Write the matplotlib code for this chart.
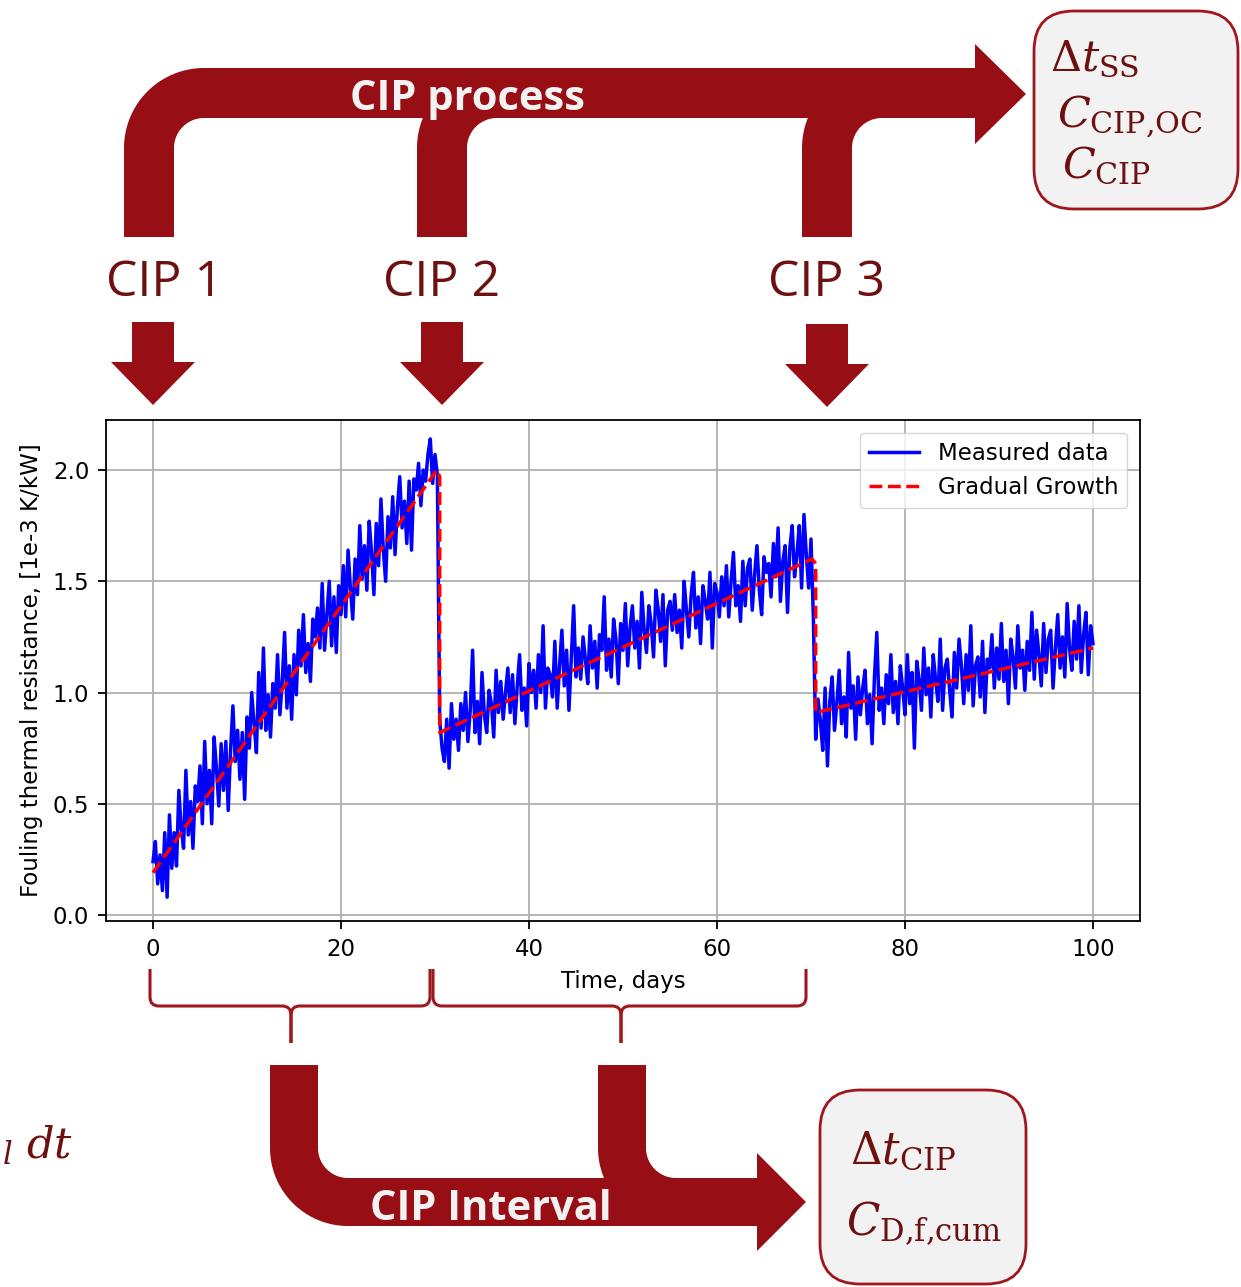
import numpy as np
import matplotlib
matplotlib.use("Agg")
import matplotlib.pyplot as plt
from matplotlib.path import Path
from matplotlib.patches import PathPatch, FancyBboxPatch, Polygon

# ---------------- data (values in hundredths of 1e-3 K/kW) ----------------
seg1_start, seg2_start, seg3_start = 0.0, 30.5, 70.5
dt_step = 0.25
seg1_vals = [24, 33, 14, 27, 11, 37, 8, 45, 21, 37,
             22, 56, 39, 30, 65, 36, 51, 30, 58, 51,
             67, 41, 78, 50, 65, 41, 80, 66, 49, 77,
             56, 78, 47, 74, 94, 69, 83, 61, 82, 52,
             89, 75, 100, 86, 73, 109, 84, 120, 83, 99,
             80, 104, 93, 117, 90, 105, 127, 93, 112, 88,
             117, 99, 128, 112, 135, 109, 122, 105, 133, 125,
             138, 120, 149, 119, 135, 150, 121, 143, 118, 148,
             135, 157, 134, 164, 147, 133, 160, 144, 175, 151,
             166, 146, 177, 163, 144, 176, 157, 187, 164, 150,
             179, 165, 188, 162, 183, 197, 174, 186, 167, 195,
             164, 196, 191, 203, 184, 200, 195, 207, 214, 194,
             207, 198]
seg2_vals = [88, 75, 69, 88, 66, 95, 79, 88, 74, 95,
             83, 100, 78, 92, 119, 82, 96, 77, 109, 90,
             82, 101, 95, 80, 110, 91, 105, 88, 100, 111,
             91, 108, 86, 103, 117, 92, 102, 85, 113, 100,
             110, 93, 117, 100, 130, 93, 111, 108, 98, 123,
             93, 112, 128, 103, 119, 92, 116, 139, 107, 120,
             106, 125, 115, 104, 130, 111, 123, 102, 126, 119,
             143, 110, 124, 107, 133, 124, 104, 131, 119, 140,
             112, 129, 139, 120, 132, 111, 145, 128, 118, 139,
             131, 116, 146, 137, 123, 144, 112, 137, 141, 128,
             144, 127, 137, 120, 150, 137, 125, 144, 154, 129,
             143, 122, 148, 141, 133, 154, 120, 149, 145, 134,
             152, 139, 157, 134, 150, 163, 139, 148, 132, 159,
             139, 156, 160, 137, 153, 166, 146, 135, 161, 154,
             158, 143, 167, 152, 174, 141, 159, 166, 136, 165,
             175, 152, 162, 175, 147, 180, 162, 147, 169, 134]
seg3_vals = [79, 97, 87, 74, 102, 67, 96, 107, 83, 95,
             110, 86, 98, 80, 118, 93, 103, 79, 107, 90,
             102, 110, 86, 99, 77, 107, 127, 92, 102, 86,
             108, 95, 117, 91, 105, 86, 112, 102, 90, 117,
             95, 109, 75, 114, 106, 92, 120, 99, 111, 89,
             117, 106, 96, 124, 92, 111, 115, 101, 89, 118,
             102, 124, 112, 95, 117, 101, 130, 94, 112, 116,
             98, 123, 91, 115, 111, 126, 102, 120, 106, 131,
             105, 119, 95, 124, 116, 102, 130, 111, 119, 101,
             123, 110, 136, 106, 128, 117, 103, 131, 109, 124,
             128, 102, 120, 135, 111, 125, 107, 140, 120, 110,
             132, 115, 139, 109, 126, 136, 108, 130, 122]

growth_t = [0, 30.2, 30.5, 30.5, 70.1, 70.5, 70.5, 100]
growth_v = [0.19, 2.0, 1.97, 0.82, 1.60, 1.58, 0.91, 1.20]

x_ticks = [0, 20, 40, 60, 80, 100]
y_ticks = [0.0, 0.5, 1.0, 1.5, 2.0]
cip_labels = ["CIP 1", "CIP 2", "CIP 3"]

# ---------------- build measured series ----------------
t_meas, v_meas = [], []
for start, vals in [(seg1_start, seg1_vals), (seg2_start, seg2_vals), (seg3_start, seg3_vals)]:
    t_meas.extend(start + dt_step * np.arange(len(vals)))
    v_meas.extend(np.array(vals) / 100.0)

# ---------------- style ----------------
ARROW = "#980E15"
DARK = "#6E1010"
EDGE = "#A0161D"
BOXFILL = "#F2F2F2"
FS = 16.5
plt.rcParams["mathtext.fontset"] = "dejavuserif"

W, H = 1241, 1287
fig = plt.figure(figsize=(W / 100, H / 100), dpi=100)
fig.patch.set_facecolor("white")

ax = fig.add_axes([106 / W, 1 - 921 / H, (1140 - 106) / W, (921 - 420) / H])
ax.plot(t_meas, v_meas, color="blue", lw=2.5, label="Measured data", zorder=3)
ax.plot(growth_t, growth_v, color="red", ls="--", lw=2.5, label="Gradual Growth", zorder=4)
ax.set_xlim(-5, 105)
ax.set_ylim(-0.027, 2.225)
ax.set_xticks(x_ticks)
ax.set_yticks(y_ticks)
ax.set_yticklabels([f"{v:.1f}" for v in y_ticks])
ax.tick_params(labelsize=FS, length=6, width=1.3, pad=6)
ax.grid(True, color="#b0b0b0", lw=1.3)
ax.set_axisbelow(True)
for s in ax.spines.values():
    s.set_linewidth(1.3)
ax.set_xlabel("Time, days", fontsize=FS, labelpad=7)
ax.set_ylabel("Fouling thermal resistance, [1e-3 K/kW]", fontsize=FS, labelpad=7)
ax.legend(loc="upper right", fontsize=FS, handlelength=2.2, borderaxespad=0.55)

# ---------------- overlay in pixel coordinates ----------------
ov = fig.add_axes([0, 0, 1, 1], zorder=5)
ov.set_xlim(0, W)
ov.set_ylim(H, 0)
ov.axis("off")
ov.patch.set_alpha(0)


def elbow_top(xl, ytop, w, r, x_end, y_bot):
    R = r + w
    pts = [(xl, y_bot), (xl, ytop + R)]
    cx, cy = xl + R, ytop + R
    for a in np.linspace(np.pi, 1.5 * np.pi, 40):
        pts.append((cx + R * np.cos(a), cy + R * np.sin(a)))
    pts += [(x_end, ytop), (x_end, ytop + w)]
    cx2, cy2 = xl + w + r, ytop + w + r
    for a in np.linspace(1.5 * np.pi, np.pi, 40):
        pts.append((cx2 + r * np.cos(a), cy2 + r * np.sin(a)))
    pts.append((xl + w, y_bot))
    return Polygon(pts, closed=True, facecolor=ARROW, edgecolor="none")


def elbow_bottom(xl, ybot, w, r, x_end, y_top):
    R = r + w
    pts = [(xl, y_top), (xl, ybot - R)]
    cx, cy = xl + R, ybot - R
    for a in np.linspace(np.pi, 0.5 * np.pi, 40):
        pts.append((cx + R * np.cos(a), cy + R * np.sin(a)))
    pts += [(x_end, ybot), (x_end, ybot - w)]
    cx2, cy2 = xl + w + r, ybot - w - r
    for a in np.linspace(0.5 * np.pi, np.pi, 40):
        pts.append((cx2 + r * np.cos(a), cy2 + r * np.sin(a)))
    pts.append((xl + w, y_top))
    return Polygon(pts, closed=True, facecolor=ARROW, edgecolor="none")


# top "CIP process" arrow
for xl in [124, 417, 802]:
    ov.add_patch(elbow_top(xl, 68, 50, 30, 977, 237))
ov.add_patch(Polygon([(975, 44), (1026, 94), (975, 144)], closed=True,
                     facecolor=ARROW, edgecolor="none"))
ov.text(467, 110, "CIP process", color=BOXFILL, fontsize=30, fontweight="bold",
        family="Open Sans", ha="center", va="baseline")

# CIP labels
for lbl, xc in zip(cip_labels, [164, 442, 827]):
    ov.text(xc, 296, lbl, color=DARK, fontsize=36, family="Open Sans",
            ha="center", va="baseline")

# down arrows
for xc, y0 in zip([153, 442, 827], [322, 322, 324]):
    pts = [(xc - 21, y0), (xc + 21, y0), (xc + 21, y0 + 40), (xc + 42, y0 + 40),
           (xc, y0 + 83), (xc - 42, y0 + 40), (xc - 21, y0 + 40)]
    ov.add_patch(Polygon(pts, closed=True, facecolor=ARROW, edgecolor="none"))

# top-right box
ov.add_patch(FancyBboxPatch((1034, 11), 204, 198,
                            boxstyle="round,pad=0,rounding_size=40",
                            facecolor=BOXFILL, edgecolor=EDGE, lw=2))
ov.text(1050, 70, r"$\Delta t_{\mathrm{SS}}$", color=DARK, fontsize=31, ha="left", va="baseline")
ov.text(1057, 128, r"$C_{\mathrm{CIP{,}OC}}$", color=DARK, fontsize=31, ha="left", va="baseline")
ov.text(1062, 177, r"$C_{\mathrm{CIP}}$", color=DARK, fontsize=31, ha="left", va="baseline")


# braces
def brace(x0, x1, xm, yt=969, ym=1006, ytip=1043, c=9):
    for xe, sgn in [(x0, 1), (x1, -1)]:
        verts = [(xe, yt), (xe, ym - c), (xe, ym), (xe + sgn * c, ym),
                 (xm - sgn * c, ym), (xm, ym), (xm, ym + c), (xm, ytip)]
        codes = [Path.MOVETO, Path.LINETO, Path.CURVE3, Path.CURVE3,
                 Path.LINETO, Path.CURVE3, Path.CURVE3, Path.LINETO]
        ov.add_patch(PathPatch(Path(verts, codes), facecolor="none",
                               edgecolor=EDGE, lw=2.2, capstyle="butt"))


brace(150, 430, 291)
brace(433, 806, 621)

# bottom "CIP Interval" arrow
for xl in [270, 598]:
    ov.add_patch(elbow_bottom(xl, 1226, 48, 30, 759, 1065))
ov.add_patch(Polygon([(757, 1153), (806, 1202), (757, 1251)], closed=True,
                     facecolor=ARROW, edgecolor="none"))
ov.text(491, 1220, "CIP Interval", color=BOXFILL, fontsize=30, fontweight="bold",
        family="Open Sans", ha="center", va="baseline")

# bottom-right box
ov.add_patch(FancyBboxPatch((820, 1090), 206, 194,
                            boxstyle="round,pad=0,rounding_size=40",
                            facecolor=BOXFILL, edgecolor=EDGE, lw=2))
ov.text(850, 1164, r"$\Delta t_{\mathrm{CIP}}$", color=DARK, fontsize=31.5, ha="left", va="baseline")
ov.text(846, 1234, r"$C_{\mathrm{D{,}f{,}cum}}$", color=DARK, fontsize=31.5, ha="left", va="baseline")

# partially visible formula at the left edge
ov.text(2, 1164, r"$l$", color=DARK, fontsize=22, ha="left", va="baseline")
ov.text(26, 1157, r"$dt$", color=DARK, fontsize=31, ha="left", va="baseline")

fig.savefig("out.png", dpi=100)
